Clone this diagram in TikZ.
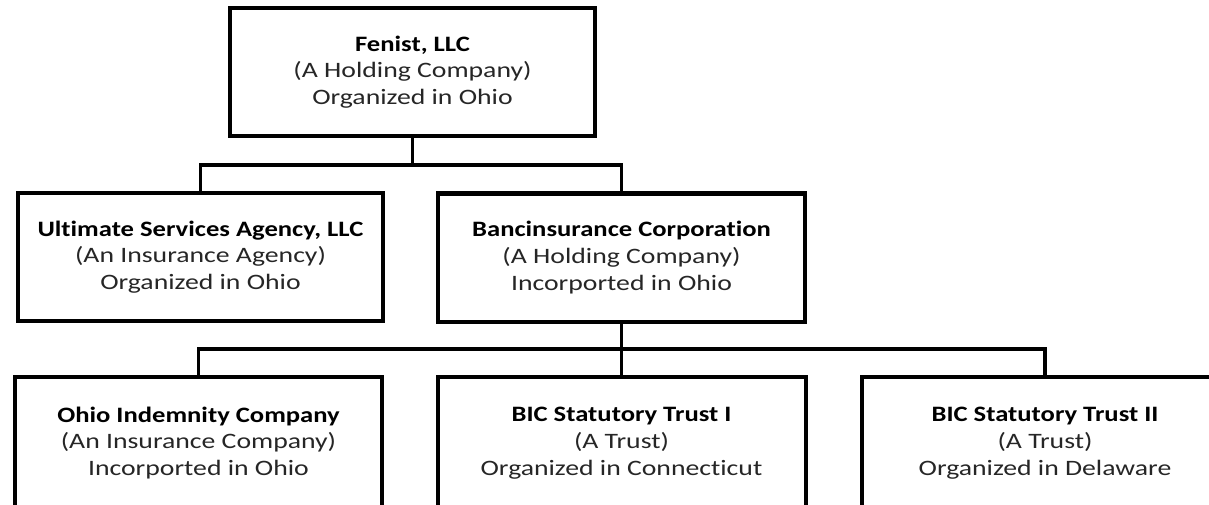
\documentclass[tikz,border=0pt]{standalone}
\usepackage{fontspec}
\setmainfont{Carlito}[FakeStretch=1.26, RawFeature=-liga, BoldFeatures={FakeStretch=1.21}]

\begin{document}
\begin{tikzpicture}[x=1pt,y=-1pt,
    firm/.style={draw, line width=4pt, minimum width=365pt, minimum height=128pt,
      inner sep=0pt, outer sep=0pt, align=center, text=black!85,
      font=\fontsize{22}{26.7}\selectfont},
    link/.style={line width=3.4pt}]
    % page frame %
    \useasboundingbox (0,0) rectangle (1209,505);

    % companies %
    \node[firm] (fenist) at (412.5,72) {\textbf{\color{black}Fenist, LLC}\\(A Holding Company)\\Organized in Ohio};
    \node[firm] (usa) at (200.5,257) {\textbf{\color{black}Ultimate Services Agency, LLC}\\(An Insurance Agency)\\Organized in Ohio};
    \node[firm, minimum width=367pt] (banc) at (621.5,257.5) {\textbf{\color{black}Bancinsurance Corporation}\\(A Holding Company)\\Incorported in Ohio};
    \node[firm, minimum width=367pt, minimum height=132pt] (ohio) at (198.5,443) {\textbf{\color{black}Ohio Indemnity Company}\\(An Insurance Company)\\Incorported in Ohio};
    \node[firm, minimum width=368pt, minimum height=132pt] (bic1) at (621.5,443) {\textbf{\color{black}BIC Statutory Trust I}\\(A Trust)\\Organized in Connecticut};
    \node[firm, minimum width=366pt, minimum height=132pt] (bic2) at (1045,443) {\textbf{\color{black}BIC Statutory Trust II}\\(A Trust)\\Organized in Delaware};

    % ownership lines %
    \coordinate (bus1) at (412.5,165);
    \coordinate (bus2) at (621.5,349);
    \draw[link] (fenist.south) -- (bus1);
    \draw[link] (usa.north) |- (bus1) -| (banc.north);
    \draw[link] (banc.south) -- (bus2);
    \draw[link] (ohio.north) |- (bus2) -| (bic2.north);
    \draw[link] (bus2) -- (bic1.north);
\end{tikzpicture}
\end{document}
